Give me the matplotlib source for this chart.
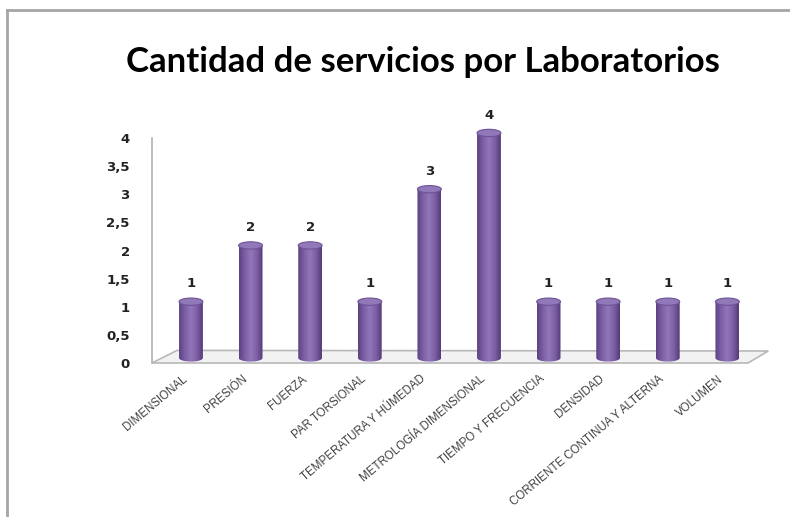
import numpy as np
import matplotlib.pyplot as plt
import matplotlib.transforms as mtransforms
from matplotlib.patches import Ellipse, Polygon, PathPatch
from matplotlib.path import Path
from matplotlib.colors import LinearSegmentedColormap

# data
laboratorios = ['DIMENSIONAL', 'PRESIÓN', 'FUERZA', 'PAR TORSIONAL',
                'TEMPERATURA Y HÚMEDAD', 'METROLOGÍA DIMENSIONAL',
                'TIEMPO Y FRECUENCIA', 'DENSIDAD',
                'CORRIENTE CONTINUA Y ALTERNA', 'VOLUMEN']
servicios = [1, 2, 2, 1, 3, 4, 1, 1, 1, 1]
y_ticks = [0, 0.5, 1, 1.5, 2, 2.5, 3, 3.5, 4]
y_ticklabels = ['0', '0,5', '1', '1,5', '2', '2,5', '3', '3,5', '4']
titulo = 'Cantidad de servicios por Laboratorios'

W, H = 790, 517
fig = plt.figure(figsize=(W / 100, H / 100), dpi=100)

# chart frame (left + top border)
fig.add_artist(plt.Line2D([7 / W, 7 / W], [0, 1 - 10 / H], color='#a6a6a6', lw=2))
fig.add_artist(plt.Line2D([7 / W, 1], [1 - 10 / H, 1 - 10 / H], color='#a6a6a6', lw=2))

fig.text(423 / W, 1 - 62 / H, titulo, ha='center', va='center',
         fontsize=25, fontweight='bold', family='Lato', color='black')

# axes: front floor edge 152..748 px, y=0 at 363 px, 56.25 px per unit
unit = 56.25
ytop = 4.4
ax = fig.add_axes([152 / W, 1 - 363 / H, 596 / W, ytop * unit / H])
x = np.arange(len(servicios))
ax.set_xlim(-0.654, 9.346)
ax.set_ylim(0, ytop)
for s in ['top', 'right', 'bottom']:
    ax.spines[s].set_visible(False)
ax.spines['left'].set_color('#b0b0b0')
ax.spines['left'].set_linewidth(1.2)
ax.spines['left'].set_bounds(0, 4)
ax.set_xticks([])
ax.set_yticks(y_ticks)
ax.set_yticklabels(y_ticklabels, fontsize=9.5, fontweight='bold',
                   family='DejaVu Sans', color='#222222')
ax.tick_params(axis='y', length=0, pad=16)

# 3D floor
fy = 12 / (ytop * unit)
floor = Polygon([(0, 0), (1, 0), (1.034, fy), (0.042, fy * 1.05)],
                closed=True, transform=ax.transAxes, clip_on=False,
                facecolor='#f2f2f2', edgecolor='#b8b8b8', lw=1.2, zorder=1)
ax.add_patch(floor)

# cylinders
cmap = LinearSegmentedColormap.from_list(
    'cyl', ['#5c4282', '#7d5fa6', '#9077b9', '#7d5fa6', '#553c78'])
grad = np.linspace(0, 1, 64).reshape(1, -1)
bw = 0.40
eh = 0.13
base = 0.09
for xi, v in zip(x, servicios):
    x0, x1 = xi - bw / 2, xi + bw / 2
    top = base + v
    t = np.linspace(np.pi, 2 * np.pi, 30)
    bottom_arc = np.column_stack([xi + bw / 2 * np.cos(t), base + eh / 2 * np.sin(t)])
    verts = np.vstack([[x0, top], bottom_arc, [x1, top], [x0, top]])
    body = PathPatch(Path(verts), facecolor='none', edgecolor='none')
    ax.add_patch(body)
    im = ax.imshow(grad, cmap=cmap, aspect='auto', extent=[x0, x1, base - eh, top],
                   zorder=2, interpolation='bilinear')
    im.set_clip_path(body)
    ax.add_patch(Ellipse((xi, top), bw, eh, facecolor='#9179b9',
                         edgecolor='#6e5396', lw=0.8, zorder=3))
    ax.text(xi, top + 0.2, str(v), ha='center', va='bottom', fontsize=9.5,
            fontweight='bold', family='DejaVu Sans', color='#222222', zorder=4)

# category labels
trans = mtransforms.offset_copy(ax.get_xaxis_transform(), fig=fig, x=-9, y=-10, units='dots')
for xi, lab in zip(x, laboratorios):
    ax.text(xi, 0, lab, transform=trans, ha='right', va='top', rotation=40,
            rotation_mode='anchor', fontsize=8.3, family='Liberation Sans',
            color='#404040')

ax.set_facecolor('none')
fig.savefig('out.png', dpi=100)
